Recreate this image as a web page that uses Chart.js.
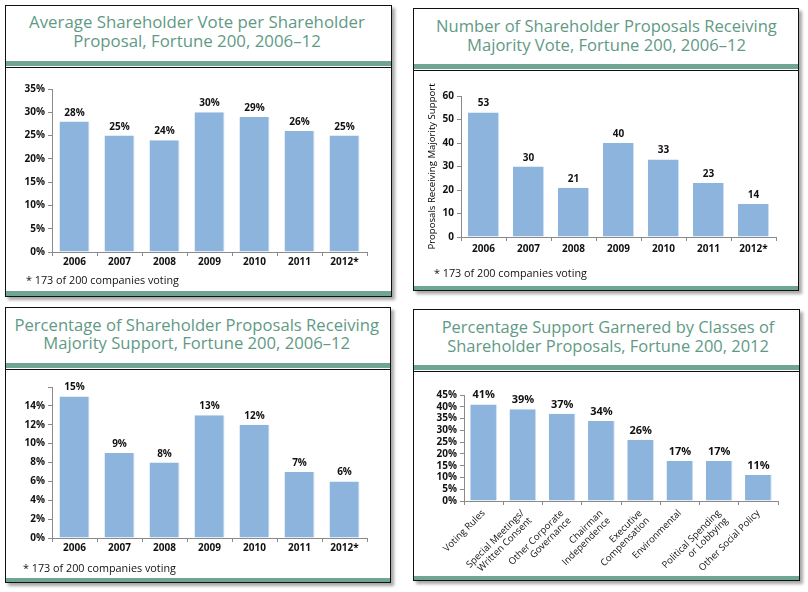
<!DOCTYPE html>
<html><head><meta charset="utf-8">
<script src="https://cdn.jsdelivr.net/npm/chart.js@4.4.0/dist/chart.umd.min.js"></script>
<style>
html,body{margin:0;padding:0;background:#fff;width:808px;height:592px;overflow:hidden;font-family:"Open Sans",sans-serif;}
.panel{position:absolute;box-sizing:border-box;border:1px solid #111;box-shadow:3px 3px 3px rgba(0,0,0,0.35);background:#fff;}
.band{position:absolute;background:#6fa692;}
.rule{position:absolute;background:#111;height:1px;}
.txt{position:absolute;white-space:nowrap;}
canvas{position:absolute;}
</style>
</head><body>
<canvas id="c1" width="385" height="223" style="left:6px;top:68px"></canvas>
<canvas id="c2" width="384" height="214" style="left:414px;top:72px"></canvas>
<canvas id="c3" width="384" height="208" style="left:6px;top:370px"></canvas>
<canvas id="c4" width="385" height="204" style="left:414px;top:372px"></canvas>
<script>
// ---- data ----
const years = ['2006','2007','2008','2009','2010','2011','2012*'];
const avgVotePct = [28,25,24,30,29,26,25];
const majorityCount = [53,30,21,40,33,23,14];
const majorityPct = [15,9,8,13,12,7,6];
const classLabels = [['Voting Rules'],['Special Meetings/','Written Consent'],['Other Corporate','Governance'],['Chairman','Independence'],['Executive','Compensation'],['Environmental'],['Political Spending','or Lobbying'],['Other Social Policy']];
const classSupportPct = [41,39,37,34,26,17,17,11];
const titles = [
  ['Average Shareholder Vote per Shareholder','Proposal, Fortune 200, 2006–12'],
  ['Number of Shareholder Proposals Receiving','Majority Vote, Fortune 200, 2006–12'],
  ['Percentage of Shareholder Proposals Receiving','Majority Support, Fortune 200, 2006–12'],
  ['Percentage Support Garnered by Classes of','Shareholder Proposals, Fortune 200, 2012']
];
const footnote = '* 173 of 200 companies voting';
const yTitle2 = 'Proposals Receiving Majority Support';

// ---- layout ----
const FONT = '"Open Sans", sans-serif';
const panels = [
  {x:5,y:5,r:392,b:297,band:61,rule:67,bb:291, tc:197, tb:[29,48], tw:336},
  {x:413,y:8,r:799,b:291,band:64,rule:70,bb:286, tc:606.5, tb:[33,52], tw:341},
  {x:5,y:307,r:391,b:583,band:363,rule:369,bb:578, tc:196.7, tb:[331.7,350], tw:365},
  {x:413,y:309,r:800,b:581,band:365,rule:371,bb:576, tc:608, tb:[334,353], tw:333}
];
const notes = [{x:26,b:285},{x:434,b:278},{x:23,b:572.7}];

const mctx = document.createElement('canvas').getContext('2d');
function measure(t, size, weight){ mctx.font = (weight||'normal')+' '+size+'px '+FONT; return mctx.measureText(t).width; }
function addText(t, x, baseline, size, color, align, weight){
  const d = document.createElement('div');
  d.className='txt'; d.textContent=t;
  d.style.fontSize=size+'px'; d.style.lineHeight=(1.362*size)+'px';
  d.style.color=color; d.style.fontWeight=weight||'normal';
  d.style.top=(baseline-1.069*size)+'px';
  const w = measure(t,size,weight);
  d.style.left=(align==='center'? x-w/2 : x)+'px';
  document.body.appendChild(d);
}
panels.forEach((p,i)=>{
  const d=document.createElement('div'); d.className='panel';
  Object.assign(d.style,{left:p.x+'px',top:p.y+'px',width:(p.r-p.x)+'px',height:(p.b-p.y)+'px'});
  document.body.insertBefore(d, document.body.firstChild);
  const b1=document.createElement('div'); b1.className='band';
  Object.assign(b1.style,{left:(p.x+1)+'px',top:p.band+'px',width:(p.r-p.x-2)+'px',height:'5px'}); document.body.appendChild(b1);
  const r1=document.createElement('div'); r1.className='rule';
  Object.assign(r1.style,{left:(p.x+1)+'px',top:p.rule+'px',width:(p.r-p.x-2)+'px'}); document.body.appendChild(r1);
  const b2=document.createElement('div'); b2.className='band';
  Object.assign(b2.style,{left:(p.x+1)+'px',top:p.bb+'px',width:(p.r-p.x-2)+'px',height:(p.b-p.bb-1)+'px'}); document.body.appendChild(b2);
  const fs = 100*p.tw/measure(titles[i][0],100);
  titles[i].forEach((line,k)=>addText(line,p.tc,p.tb[k],fs,'#5f9a85','center'));
});
notes.forEach(n=>addText(footnote,n.x,n.b,10.8,'#111','left'));

// ---- charts ----
const valueLabels = {
  id:'valueLabels',
  afterDatasetsDraw(chart, args, opts){
    const ctx = chart.ctx, meta = chart.getDatasetMeta(0), data = chart.data.datasets[0].data;
    ctx.save();
    ctx.font = 'bold '+opts.size+'px '+FONT; ctx.fillStyle='#111';
    ctx.textAlign='center'; ctx.textBaseline='alphabetic';
    meta.data.forEach((el,i)=>ctx.fillText(data[i]+opts.suffix, el.x, el.y-6));
    ctx.restore();
  }
};
function makeChart(id, rect, area, xH, labels, values, o){
  const axisColor='#8a8a8a';
  return new Chart(document.getElementById(id), {
    type:'bar',
    data:{labels, datasets:[{data:values, backgroundColor:'#8db4dc', borderColor:'#cfe0f2',
      borderWidth:{top:0,right:1,left:0,bottom:0}, barPercentage:o.bar, categoryPercentage:1}]},
    options:{
      responsive:false, animation:false, events:[],
      layout:{padding:{left:0, top:area.T-rect.y, right:rect.x+rect.w-area.R, bottom:rect.y+rect.h-area.B-xH}},
      plugins:{legend:{display:false}, tooltip:{enabled:false}, valueLabels:{size:o.vs, suffix:o.suffix}},
      scales:{
        x:{ grid:{drawOnChartArea:false, drawTicks:true, tickLength:4, color:axisColor, offset:true},
            border:{color:axisColor},
            ticks:{font:{family:FONT, size:o.xs, weight:o.xw, lineHeight:1.1}, color:'#111', padding:o.xPad,
              minRotation:o.rot, maxRotation:o.rot, autoSkip:false},
            afterFit(s){ s.height = xH; } },
        y:{ min:0, max:o.max,
            grid:{drawOnChartArea:false, drawTicks:true, tickLength:4, color:axisColor},
            border:{color:axisColor},
            ticks:{stepSize:o.step, autoSkip:false, font:{family:FONT, size:o.ys, weight:'bold', lineHeight:1}, color:'#111', padding:3,
              callback:(v)=> (o.hideTop && v===o.max) ? '' : v+o.suffix},
            title:o.ytitle ? {display:true, text:o.ytitle, color:'#000', font:{family:FONT, size:9.6, lineHeight:1.2}, padding:{top:13,bottom:0}} : {display:false},
            afterFit(s){ s.width = area.L-rect.x; } }
      }
    },
    plugins:[valueLabels]
  });
}
makeChart('c1',{x:6,y:68,w:385,h:223},{L:52,R:367,T:89,B:252},26,years,avgVotePct,
  {bar:0.667,max:35,step:5,suffix:'%',vs:10,xs:10,xw:'bold',ys:10,xPad:1,rot:0});
makeChart('c2',{x:414,y:72,w:384,h:214},{L:461,R:776,T:96,B:237},26,years,majorityCount,
  {bar:0.69,max:60,step:10,suffix:'',vs:10,xs:10,xw:'bold',ys:10,xPad:3,rot:0,ytitle:yTitle2});
makeChart('c3',{x:6,y:370,w:384,h:208},{L:52,R:367,T:387,B:538},26,years,majorityPct,
  {bar:0.667,max:16,step:2,suffix:'%',vs:10,xs:10,xw:'bold',ys:10,xPad:1,rot:0,hideTop:true});
makeChart('c4',{x:414,y:372,w:385,h:204},{L:464,R:778,T:395,B:501},70,classLabels,classSupportPct,
  {bar:0.68,max:45,step:5,suffix:'%',vs:11,xs:9.5,xw:'normal',ys:10,xPad:3,rot:45});
</script>
</body></html>
